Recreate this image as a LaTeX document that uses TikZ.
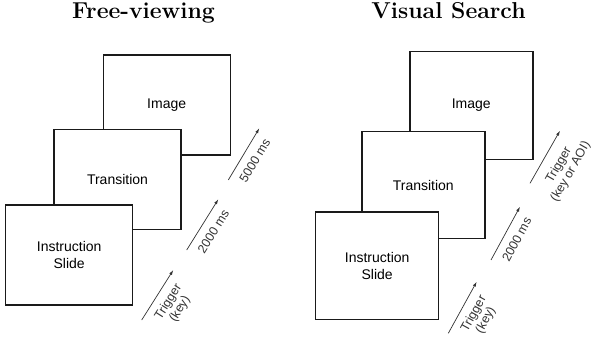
\documentclass[tikz,border=0pt]{standalone}
\usepackage{fontspec}
\newfontfamily\arialfont{Liberation Sans}
\usetikzlibrary{arrows.meta,positioning}
\definecolor{edge}{HTML}{1A1A1A}
\definecolor{flowgrey}{HTML}{333333}

\begin{document}
\begin{tikzpicture}[x=1pt,y=-1pt,
  slide/.style={draw=edge,line width=1.4pt,fill=white,align=center,
    font=\arialfont\fontsize{14}{16.8}\selectfont,inner sep=0pt},
  flow/.style={-{Latex[length=5pt,width=3.2pt]},flowgrey,line width=0.7pt},
  lbl/.style={midway,sloped,below=7pt,align=center,inner sep=1pt,
    font=\arialfont\fontsize{12.5}{13.5}\selectfont,text=flowgrey},
  title/.style={anchor=base,inner sep=0pt,font=\bfseries\fontsize{23}{28}\selectfont}]
  \useasboundingbox (0,0) rectangle (592,337);
  % titles
  \node[title] (fvtitle) at (143.5,18.8) {Free-viewing};
  \node[title] (vstitle) at (448.5,18.8) {Visual Search};
  % free-viewing slides
  \foreach \n/\t/\x/\y in {fvimg/Image/166.7/105,fvtr/Transition/117.5/179.3,fvins/{Instruction\\Slide}/69.2/255}{
    \node[slide,minimum width=127pt,minimum height=100pt] (\n) at (\x,\y) {\t};}
  % visual search slides
  \foreach \n/\t/\x/\y in {vsimg/Image/471.3/105.5,vstr/Transition/423.3/185,vsins/{Instruction\\Slide}/377.2/265.8}{
    \node[slide,minimum width=123pt,minimum height=107.5pt] (\n) at (\x,\y) {\t};}
  % free-viewing arrows
  \coordinate (fva) at (141.7,320);   \coordinate (fvb) at (173.3,270);
  \coordinate (fvc) at (186.7,250);   \coordinate (fvd) at (218.3,199.3);
  \coordinate (fve) at (228.3,180);   \coordinate (fvf) at (259.3,128.3);
  \draw[flow] (fva) -- (fvb) node[lbl,below=6pt]{Trigger\\(key)};
  \draw[flow] (fvc) -- (fvd) node[lbl]{2000 ms};
  \draw[flow] (fve) -- (fvf) node[lbl]{5000 ms};
  % visual search arrows
  \coordinate (vsa) at (448.3,333.3); \coordinate (vsb) at (476.7,281.7);
  \coordinate (vsc) at (491,260);     \coordinate (vsd) at (520,206.7);
  \coordinate (vse) at (530,183.3);   \coordinate (vsf) at (560,130.7);
  \draw[flow] (vsa) -- (vsb) node[lbl,below=6pt]{Trigger\\(key)};
  \draw[flow] (vsc) -- (vsd) node[lbl]{2000 ms};
  \draw[flow] (vse) -- (vsf) node[lbl,below=9pt]{Trigger\\(key or AOI)};
\end{tikzpicture}
\end{document}
